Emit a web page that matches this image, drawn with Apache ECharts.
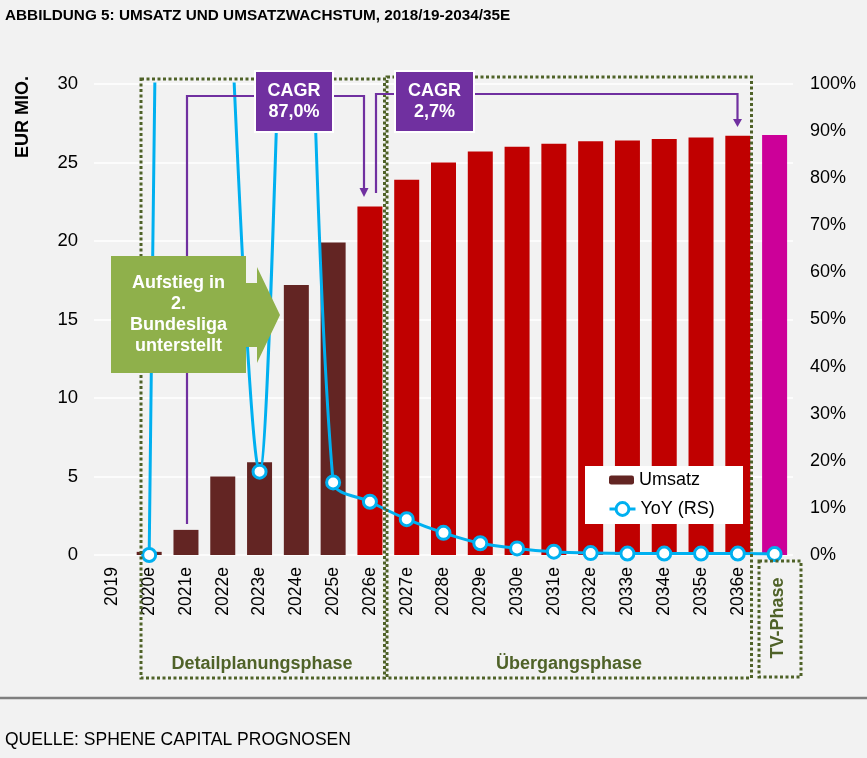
<!DOCTYPE html>
<html><head><meta charset="utf-8">
<script src="https://cdn.jsdelivr.net/npm/echarts@6/dist/echarts.min.js"></script>
<style>html,body{margin:0;padding:0;background:#f2f2f2;}#c{width:867px;height:758px;}</style>
</head><body><div id="c"></div>
<script>
// ---- data ----
const categories = ['2019','2020e','2021e','2022e','2023e','2024e','2025e','2026e','2027e','2028e','2029e','2030e','2031e','2032e','2033e','2034e','2035e','2036e','TV-Phase'];
const phases = ['none','detail','detail','detail','detail','detail','detail','detail2','trans','trans','trans','trans','trans','trans','trans','trans','trans','trans','tv'];
const umsatz = [0, 0.2, 1.6, 5.0, 5.9, 17.2, 19.9, 22.2, 23.9, 25.0, 25.7, 26.0, 26.2, 26.35, 26.4, 26.5, 26.6, 26.7, 26.75];
const yoy = [null, 0, 4.4, 1.6, 0.177, 1.9, 0.154, 0.113, 0.076, 0.047, 0.025, 0.014, 0.007, 0.004, 0.003, 0.003, 0.003, 0.003, 0.002];
const leftTicks = [0, 30, 5];
const rightTicks = [0, 1, 0.1];

const phaseColor = {none:'#632523', detail:'#632523', detail2:'#c00000', trans:'#c00000', tv:'#cc0099'};
const FONT = '"Liberation Sans", Arial, sans-serif';
const PURPLE = '#7030a0', OLIVE = '#4f6228', BLUE = '#00b0f0';

const chart = echarts.init(document.getElementById('c'), null, {renderer:'canvas'});

function txt(x, y, text, opts) {
  opts = opts || {};
  return {type:'text', x:x, y:y, rotation:opts.rot||0, z:opts.z||20,
    style:{text:text, fill:opts.fill||'#000', font:(opts.bold?'bold ':'')+(opts.size||18)+'px '+FONT,
      align:opts.align||'center', verticalAlign:'middle', lineHeight:opts.lh||21}};
}
function dotted(x0,y0,x1,y1){
  return {type:'rect', z:15, shape:{x:x0,y:y0,width:x1-x0,height:y1-y0},
    style:{fill:'none', stroke:OLIVE, lineWidth:3, lineDash:[3,2.5]}};
}
function pline(pts){ return {type:'polyline', z:15, shape:{points:pts}, style:{stroke:PURPLE, lineWidth:2.2, fill:null}}; }
function tri(pts){ return {type:'polygon', z:15, shape:{points:pts}, style:{fill:PURPLE}}; }

const graphics = [
  txt(5, 16, 'ABBILDUNG 5: UMSATZ UND UMSATZWACHSTUM, 2018/19-2034/35E', {bold:true, size:15.3, align:'left'}),
  txt(23, 117, 'EUR MIO.', {bold:true, size:18, rot:Math.PI/2}),
  {type:'line', z:15, shape:{x1:0,y1:698,x2:867,y2:698}, style:{stroke:'#7f7f7f', lineWidth:2.5}},
  txt(5, 740, 'QUELLE: SPHENE CAPITAL PROGNOSEN', {size:17.5, align:'left'}),
  // phase boxes
  dotted(141, 79, 384.5, 678),
  dotted(387, 77, 751.5, 678),
  dotted(759, 561, 801, 677),
  txt(262, 664, 'Detailplanungsphase', {bold:true, fill:OLIVE, size:18}),
  txt(569, 664, 'Übergangsphase', {bold:true, fill:OLIVE, size:18}),
  txt(778, 618, 'TV-Phase', {bold:true, fill:OLIVE, size:18, rot:Math.PI/2}),
  // connectors
  pline([[255,96],[187,96],[187,524]]),
  pline([[333,96],[364,96],[364,189]]),
  tri([[359.5,188],[368.5,188],[364,197]]),
  pline([[395,94],[376,94],[376,193]]),
  pline([[474,94],[737.5,94],[737.5,120]]),
  tri([[733,119],[742,119],[737.5,127]]),
  // CAGR boxes
  {type:'rect', z:16, shape:{x:255,y:71,width:78,height:61}, style:{fill:PURPLE, stroke:'#fff', lineWidth:2}},
  txt(294, 102, 'CAGR\n87,0%', {bold:true, fill:'#fff', size:18, z:17}),
  {type:'rect', z:16, shape:{x:395,y:71,width:79,height:61}, style:{fill:PURPLE, stroke:'#fff', lineWidth:2}},
  txt(434.5, 102, 'CAGR\n2,7%', {bold:true, fill:'#fff', size:18, z:17}),
  // green arrow
  {type:'polygon', z:16, shape:{points:[[111,256],[246,256],[246,283],[257,283],[257,267],[280,315],[257,363],[257,347],[246,347],[246,373],[111,373]]},
    style:{fill:'#8fb04b'}},
  txt(178.5, 315, 'Aufstieg in\n2.\nBundesliga\nunterstellt', {bold:true, fill:'#fff', size:18, z:17}),
  // legend box
  {type:'rect', z:3, shape:{x:585,y:466,width:158,height:58}, style:{fill:'#fff'}}
];

const option = {
  backgroundColor:'#f2f2f2',
  animation:false,
  textStyle:{fontFamily:FONT},
  grid:{left:94, right:74, top:84, bottom:203, containLabel:false},
  legend:[
    {data:['Umsatz'], left:609, top:471, padding:0, itemWidth:25, itemHeight:9, z:5,
      textStyle:{fontSize:18, color:'#000', fontFamily:FONT}},
    {data:['YoY (RS)'], left:608, top:500, padding:0, itemWidth:26, itemHeight:16, z:5,
      itemStyle:{borderWidth:3, borderColor:BLUE, color:'#fff'},
      lineStyle:{width:3, color:BLUE},
      textStyle:{fontSize:18, color:'#000', fontFamily:FONT}}
  ],
  xAxis:{type:'category', data:categories, axisLine:{show:false}, axisTick:{show:false},
    axisLabel:{rotate:90, fontSize:17.5, color:'#000', margin:12, interval:0, fontFamily:FONT,
      formatter:function(v){return v==='TV-Phase'?'':v;}}},
  yAxis:[
    {type:'value', min:leftTicks[0], max:leftTicks[1], interval:leftTicks[2], position:'left',
      axisLine:{show:false}, axisTick:{show:false},
      axisLabel:{fontSize:18.5, color:'#000', margin:16, fontFamily:FONT},
      splitLine:{lineStyle:{color:'#ffffff', width:1.5}}},
    {type:'value', min:rightTicks[0], max:rightTicks[1], interval:rightTicks[2], position:'right',
      axisLine:{show:false}, axisTick:{show:false}, splitLine:{show:false},
      axisLabel:{fontSize:18, color:'#000', margin:17, fontFamily:FONT,
        formatter:function(v){return Math.round(v*100)+'%';}}}
  ],
  series:[
    {name:'Umsatz', type:'bar', yAxisIndex:0, barWidth:25, z:2,
      itemStyle:{color:'#632523'},
      data:umsatz.map(function(v,i){return {value:v, itemStyle:{color:phaseColor[phases[i]]}};})},
    {name:'YoY (RS)', type:'line', yAxisIndex:1, smooth:0.3, clip:true, z:4,
      symbol:'circle', symbolSize:13, showAllSymbol:true, connectNulls:false,
      itemStyle:{color:'#ffffff', borderColor:BLUE, borderWidth:3},
      lineStyle:{color:BLUE, width:3},
      data:yoy.map(function(v){return v===null?'-':v;})}
  ],
  graphic:{elements:graphics}
};
chart.setOption(option);
</script></body></html>
